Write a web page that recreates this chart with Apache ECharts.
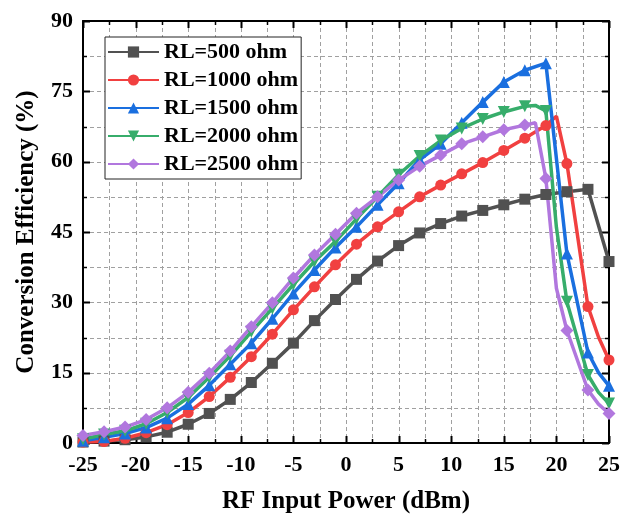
<!DOCTYPE html>
<html>
<head>
<meta charset="utf-8">
<script src="https://cdn.jsdelivr.net/npm/echarts@6/dist/echarts.min.js"></script>
<style>
html,body{margin:0;padding:0;background:#fff;}
#chart{width:623px;height:521px;}
</style>
</head>
<body>
<div id="chart"></div>
<script>
// ---- data ----
const seriesNames = ['RL=500 ohm','RL=1000 ohm','RL=1500 ohm','RL=2000 ohm','RL=2500 ohm'];
// marked measurement points (every 2 dBm)
const xMarked = [-25,-23,-21,-19,-17,-15,-13,-11,-9,-7,-5,-3,-1,1,3,5,7,9,11,13,15,17,19,21,23,25];
const y500  = [0.2,0.4,0.7,1.3,2.3,4.0,6.3,9.3,12.9,17.0,21.3,26.1,30.6,34.9,38.8,42.1,44.8,46.8,48.4,49.6,50.8,52.0,53.0,53.6,54.1,38.7];
const y1000 = [0.2,0.3,1.0,2.2,3.9,6.5,9.9,14.0,18.4,23.2,28.4,33.3,38.0,42.4,46.1,49.3,52.5,55.0,57.4,59.8,62.4,65.0,67.7,59.6,29.1,17.7];
const y1500 = [0.5,1.2,2.0,3.3,5.3,8.3,12.3,16.8,21.3,26.5,31.9,36.9,41.7,46.1,50.8,55.4,60.4,63.8,68.3,72.7,77.0,79.5,81.0,40.4,19.3,12.2];
const y2000 = [0.8,1.8,2.6,4.1,6.5,9.7,14.0,18.6,23.7,28.7,33.8,38.7,43.0,47.8,52.5,57.2,61.2,64.5,67.1,69.1,70.6,71.8,70.8,30.1,14.5,8.4];
const y2500 = [1.6,2.4,3.4,5.0,7.5,10.8,14.9,19.6,24.8,29.9,35.2,40.1,44.5,49.0,52.5,56.1,59.0,61.4,63.8,65.3,66.8,67.8,56.4,24.0,11.3,6.3];
// unmarked intermediate points visible as line corners
const x500Extra = [],          y500Extra = [];
const x1000Extra = [20,24],    y1000Extra = [69.7,22.6];
const x1500Extra = [24],       y1500Extra = [15.0];
const x2000Extra = [18,20,24], y2000Extra = [72.0,46.0,10.8];
const x2500Extra = [18,20,24], y2500Extra = [68.3,33.0,8.3];
// axis tick values
const xTicks = [-25,-20,-15,-10,-5,0,5,10,15,20,25];
const yTicks = [0,15,30,45,60,75,90];

// ---- styles ----
const colors = ['#515151','#F14040','#1A6FDF','#37AD6B','#B177DE'];
const symbols = ['rect','circle','triangle','triangle','diamond'];
const rotates = [0,0,0,180,0];
const FONT = "'Liberation Serif','Times New Roman',serif";

function build(ym, xe, ye){
  const pts = xMarked.map((x,i)=>({x:x,y:ym[i],m:true}));
  xe.forEach((x,i)=>pts.push({x:x,y:ye[i],m:false}));
  pts.sort((a,b)=>a.x-b.x);
  return pts.map(p=> p.m ? {value:[p.x,p.y]} : {value:[p.x,p.y], symbol:'none'});
}
const allData = [
  build(y500, x500Extra, y500Extra),
  build(y1000, x1000Extra, y1000Extra),
  build(y1500, x1500Extra, y1500Extra),
  build(y2000, x2000Extra, y2000Extra),
  build(y2500, x2500Extra, y2500Extra)
];
const label = {fontFamily:FONT, fontWeight:'bold', fontSize:22, color:'#000'};

function axisCfg(isX, pos, withLabels){
  const a = {
    type:'value', position:pos,
    min: isX ? xTicks[0] : yTicks[0],
    max: isX ? xTicks[xTicks.length-1] : yTicks[yTicks.length-1],
    interval: isX ? 5 : 15,
    axisLine:{show:true, onZero:false, lineStyle:{color:'#000', width:2}},
    axisTick:{show:false},
    splitLine:{show:false},
    axisLabel: withLabels ? Object.assign({margin: isX ? 11 : 10}, label) : {show:false}
  };
  if (withLabels) {
    a.name = isX ? 'RF Input Power (dBm)' : 'Conversion Efficiency (%)';
    a.nameLocation = 'middle';
    a.nameGap = isX ? 46 : 44;
    a.nameTextStyle = {fontFamily:FONT, fontWeight:'bold', fontSize:25, color:'#000'};
  }
  return a;
}

const chart = echarts.init(document.getElementById('chart'));
chart.setOption({
  animation:false,
  grid:{left:83, right:14, top:21, bottom:78},
  legend:{
    orient:'vertical', left:105, top:37, z:10,
    padding:[4,3,4,2], itemGap:6, itemWidth:51, itemHeight:14,
    borderColor:'#222', borderWidth:1, backgroundColor:'#fff',
    textStyle:{fontFamily:FONT, fontWeight:'bold', fontSize:22, color:'#000'},
    data: seriesNames
  },
  xAxis:[axisCfg(true,'bottom',true), axisCfg(true,'top',false)],
  yAxis:[axisCfg(false,'left',true), axisCfg(false,'right',false)],
  series: seriesNames.map((n,i)=>({
    name:n, type:'line', xAxisIndex:0, yAxisIndex:0,
    data: allData[i],
    symbol: symbols[i], symbolRotate: rotates[i],
    symbolSize: i===4 ? 13 : (i===2||i===3 ? 12 : 11),
    showAllSymbol:true,
    z: 3,
    lineStyle:{width:3.5, color:colors[i]},
    itemStyle:{color:colors[i]}
  }))
});

// grid lines and inward ticks, positioned through the axis scales
function withMinor(ticks){
  const out = [];
  ticks.forEach((t,i)=>{
    out.push({v:t, major:true});
    if (i < ticks.length-1) out.push({v:(t+ticks[i+1])/2, major:false});
  });
  return out;
}
const px = v => chart.convertToPixel({xAxisIndex:0}, v);
const py = v => chart.convertToPixel({yAxisIndex:0}, v);
const L = Math.round(px(xTicks[0])), R = Math.round(px(xTicks[xTicks.length-1]));
const B = Math.round(py(yTicks[0])), T = Math.round(py(yTicks[yTicks.length-1]));
const els = [];
const gridStyle = {stroke:'#a0a0a0', lineWidth:1, lineDash:[4,3]};
withMinor(xTicks).forEach(t=>{
  const x = Math.round(px(t.v)) + 0.5;
  const len = t.major ? 7 : 4, w = t.major ? 2 : 1.5;
  if (t.v !== xTicks[0] && t.v !== xTicks[xTicks.length-1])
    els.push({type:'line', silent:true, z:1, shape:{x1:x, y1:T, x2:x, y2:B}, style:gridStyle});
  els.push({type:'line', silent:true, z:2, shape:{x1:x, y1:B, x2:x, y2:B-len}, style:{stroke:'#000', lineWidth:w}});
  els.push({type:'line', silent:true, z:2, shape:{x1:x, y1:T, x2:x, y2:T+len}, style:{stroke:'#000', lineWidth:w}});
});
withMinor(yTicks).forEach(t=>{
  const y = Math.round(py(t.v)) + 0.5;
  const len = t.major ? 7 : 4, w = t.major ? 2 : 1.5;
  if (t.v !== yTicks[0] && t.v !== yTicks[yTicks.length-1])
    els.push({type:'line', silent:true, z:1, shape:{x1:L, y1:y, x2:R, y2:y}, style:gridStyle});
  els.push({type:'line', silent:true, z:2, shape:{x1:L, y1:y, x2:L+len, y2:y}, style:{stroke:'#000', lineWidth:w}});
  els.push({type:'line', silent:true, z:2, shape:{x1:R, y1:y, x2:R-len, y2:y}, style:{stroke:'#000', lineWidth:w}});
});
chart.setOption({graphic:{elements:els}});
</script>
</body>
</html>
